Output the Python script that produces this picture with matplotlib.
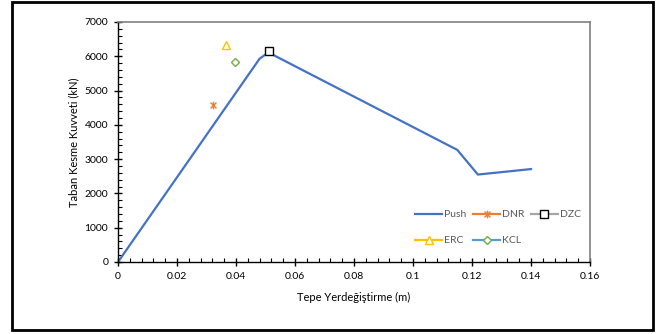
import matplotlib
matplotlib.use('Agg')
import matplotlib.pyplot as plt
from matplotlib.patches import Rectangle
from matplotlib.path import Path
from matplotlib.ticker import MultipleLocator

plt.rcParams['font.family'] = ['Lato', 'DejaVu Sans']

# pushover curve
push_x = [0.0, 0.048, 0.051, 0.115, 0.122, 0.140]
push_y = [0, 5930, 6110, 3270, 2550, 2710]

# single points
dnr_x, dnr_y = [0.0322], [4580]
dzc_x, dzc_y = [0.0512], [6150]
erc_x, erc_y = [0.0366], [6330]
kcl_x, kcl_y = [0.0397], [5840]

# excel style star: x plus a vertical stroke
star = Path([(-1, -1), (1, 1), (-1, 1), (1, -1), (0, -1.3), (0, 1.3)],
            [Path.MOVETO, Path.LINETO, Path.MOVETO, Path.LINETO, Path.MOVETO, Path.LINETO])

fig = plt.figure(figsize=(6.66, 3.34), dpi=100)
ax = fig.add_axes([0.1772, 0.2156, 0.7087, 0.7186])

p_push, = ax.plot(push_x, push_y, color='#4472C4', lw=1.6, label='Push')
p_dnr, = ax.plot(dnr_x, dnr_y, color='#ED7D31', lw=1.6, marker=star, ms=5.5,
                 mec='#ED7D31', mew=1.0, label='DNR')
p_dzc, = ax.plot(dzc_x, dzc_y, color='#A5A5A5', lw=1.6, marker='s', ms=6,
                 mec='black', mfc='white', mew=1.0, label='DZC')
p_erc, = ax.plot(erc_x, erc_y, color='#FFC000', lw=1.6, marker='^', ms=6,
                 mec='#FFC000', mfc='white', mew=1.0, label='ERC')
p_kcl, = ax.plot(kcl_x, kcl_y, color='#5B9BD5', lw=1.6, marker='D', ms=4.5,
                 mec='#70AD47', mfc='white', mew=1.0, label='KCL')

ax.set_xlim(0, 0.16)
ax.set_ylim(0, 7000)
ax.xaxis.set_major_locator(MultipleLocator(0.02))
ax.xaxis.set_minor_locator(MultipleLocator(0.004))
ax.yaxis.set_major_locator(MultipleLocator(1000))
ax.yaxis.set_minor_locator(MultipleLocator(200))
ax.set_xticks([0, 0.02, 0.04, 0.06, 0.08, 0.1, 0.12, 0.14, 0.16])
ax.set_xticklabels(['0', '0.02', '0.04', '0.06', '0.08', '0.1', '0.12', '0.14', '0.16'])

ax.tick_params(which='major', direction='inout', length=6, width=1, labelsize=7.5, pad=4)
ax.tick_params(which='minor', direction='in', length=3, width=0.8)
for s in ['left', 'bottom']:
    ax.spines[s].set_color('black')
    ax.spines[s].set_linewidth(1.0)
for s in ['top', 'right']:
    ax.spines[s].set_color('#808080')
    ax.spines[s].set_linewidth(1.2)

ax.set_xlabel('Tepe Yerdeğiştirme (m)', fontsize=8, labelpad=8)
ax.set_ylabel('Taban Kesme Kuvveti (kN)', fontsize=8, labelpad=4)

ax.legend(handles=[p_push, p_erc, p_dnr, p_kcl, p_dzc], ncol=3, frameon=False,
          fontsize=7.5, numpoints=1, handlelength=2.6, handletextpad=0.2,
          columnspacing=0.6, labelspacing=1.6, labelcolor='#595959',
          loc='upper left', bbox_to_anchor=(0.61, 0.255))

fig.patches.append(Rectangle((12 / 666, 4 / 334), 641 / 666, 328 / 334,
                             transform=fig.transFigure, fill=False,
                             edgecolor='black', lw=2))

fig.savefig('out.png', dpi=100)
